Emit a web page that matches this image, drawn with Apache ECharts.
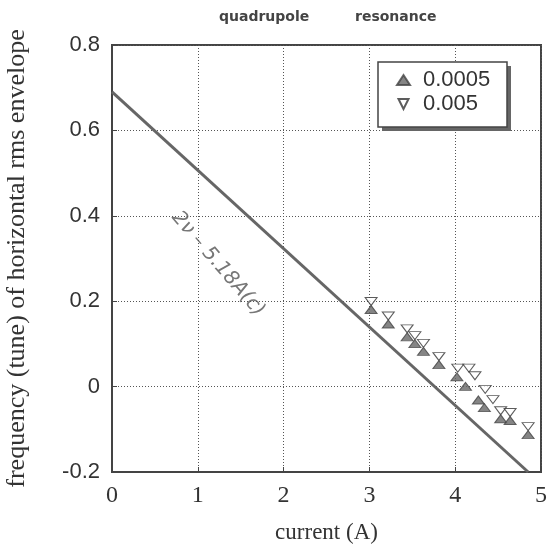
<!DOCTYPE html>
<html>
<head>
<meta charset="utf-8">
<script src="https://cdn.jsdelivr.net/npm/echarts@6/dist/echarts.min.js"></script>
<style>
  html, body { margin: 0; padding: 0; background: #fff; }
  #chart { width: 547px; height: 549px; }
</style>
</head>
<body>
<div id="chart"></div>
<script>
// tick values
const xTicks = [0, 1, 2, 3, 4, 5];
const yTicks = [-0.2, 0, 0.2, 0.4, 0.6, 0.8];

// measured tunes, rf amplitude 0.0005 (filled) and 0.005 (open)
const lowAmp = [
  [3.02, 0.190], [3.22, 0.156], [3.44, 0.126], [3.53, 0.110], [3.63, 0.092],
  [3.81, 0.061], [4.02, 0.032], [4.12, 0.010], [4.27, -0.022], [4.34, -0.040],
  [4.53, -0.066], [4.64, -0.070], [4.85, -0.103]
];
const highAmp = [
  [3.02, 0.190], [3.22, 0.156], [3.44, 0.126], [3.53, 0.110], [3.63, 0.092],
  [3.81, 0.061], [4.03, 0.034], [4.16, 0.034], [4.23, 0.016], [4.35, -0.016],
  [4.44, -0.040], [4.53, -0.066], [4.64, -0.070], [4.85, -0.103]
];

// theory line
const theory = [[0, 0.69], [4.85, -0.2]];

const downTri = 'path://M0,0 L10,0 L5,10 Z';

const chart = echarts.init(document.getElementById('chart'));

chart.setOption({
  animation: false,
  grid: {
    left: 112, top: 45, right: 6, bottom: 77,
    containLabel: false, outerBoundsMode: 'none',
    show: true, borderColor: '#444', borderWidth: 2, backgroundColor: 'transparent'
  },
  xAxis: {
    type: 'value', min: 0, max: 5, interval: 1,
    name: 'current (A)', nameLocation: 'middle', nameGap: 49,
    nameTextStyle: { fontFamily: 'Liberation Serif', fontSize: 23, color: '#333' },
    axisLine: { show: true, onZero: false, lineStyle: { color: '#444', width: 2 } },
    axisTick: { show: true, inside: true, length: 5, lineStyle: { color: '#444' } },
    axisLabel: {
      fontFamily: 'Liberation Serif', fontSize: 24, color: '#333', margin: 12,
      formatter: v => xTicks.includes(v) ? String(v) : ''
    },
    splitLine: { show: true, lineStyle: { color: '#555', type: [1, 2], width: 1 } }
  },
  yAxis: {
    type: 'value', min: -0.2, max: 0.8, interval: 0.2,
    name: 'frequency (tune) of horizontal rms envelope', nameLocation: 'middle', nameGap: 82,
    nameTextStyle: { fontFamily: 'Liberation Serif', fontSize: 26, color: '#333' },
    axisLine: { show: true, onZero: false, lineStyle: { color: '#444', width: 2 } },
    axisTick: { show: true, inside: true, length: 5, lineStyle: { color: '#444' } },
    axisLabel: {
      fontFamily: 'Liberation Sans', fontSize: 22, color: '#333', margin: 12,
      formatter: v => {
        const t = yTicks.find(k => Math.abs(k - v) < 1e-6);
        return t === undefined ? '' : (t === 0 ? '0' : t.toFixed(1));
      }
    },
    splitLine: { show: true, lineStyle: { color: '#555', type: [1, 2], width: 1 } }
  },
  legend: {
    orient: 'vertical', left: 396, top: 69, z: 10,
    padding: 0, itemGap: 2,
    itemWidth: 13, itemHeight: 10,
    textStyle: { fontFamily: 'Liberation Sans', fontSize: 22, color: '#333', padding: [0, 0, 0, 8] },
    data: ['0.0005', '0.005']
  },
  graphic: [
    {
      type: 'rect', shape: { x: 382, y: 66, width: 129, height: 65 }, z: 1,
      style: { fill: '#666' }
    },
    {
      type: 'rect', shape: { x: 378, y: 62, width: 129, height: 65 }, z: 2,
      style: { fill: '#fff', stroke: '#444', lineWidth: 1.5 }
    },
    {
      type: 'text', left: 219, top: 10,
      style: { text: 'quadrupole', font: 'bold 14px "DejaVu Sans"', fill: '#444' }
    },
    {
      type: 'text', left: 355, top: 10,
      style: { text: 'resonance', font: 'bold 14px "DejaVu Sans"', fill: '#444' }
    },
    {
      type: 'text', x: 218, y: 264, rotation: -0.86,
      style: {
        text: '2ν – 5.18A(c)', font: 'italic 20px "DejaVu Sans"', fill: '#777',
        align: 'center', verticalAlign: 'middle'
      }
    }
  ],
  series: [
    {
      type: 'line', data: theory, symbol: 'none', silent: true,
      lineStyle: { color: '#666', width: 3 }, z: 2
    },
    {
      name: '0.005', type: 'scatter', data: highAmp,
      symbol: downTri, symbolSize: [12, 8], symbolOffset: [0, -4],
      itemStyle: { color: '#fff', borderColor: '#333', borderWidth: 1 }, z: 3
    },
    {
      name: '0.0005', type: 'scatter', data: lowAmp,
      symbol: 'triangle', symbolSize: [12, 8], symbolOffset: [0, 4],
      itemStyle: { color: '#666', borderColor: '#444', borderWidth: 1 }, z: 4
    }
  ]
});
</script>
</body>
</html>
